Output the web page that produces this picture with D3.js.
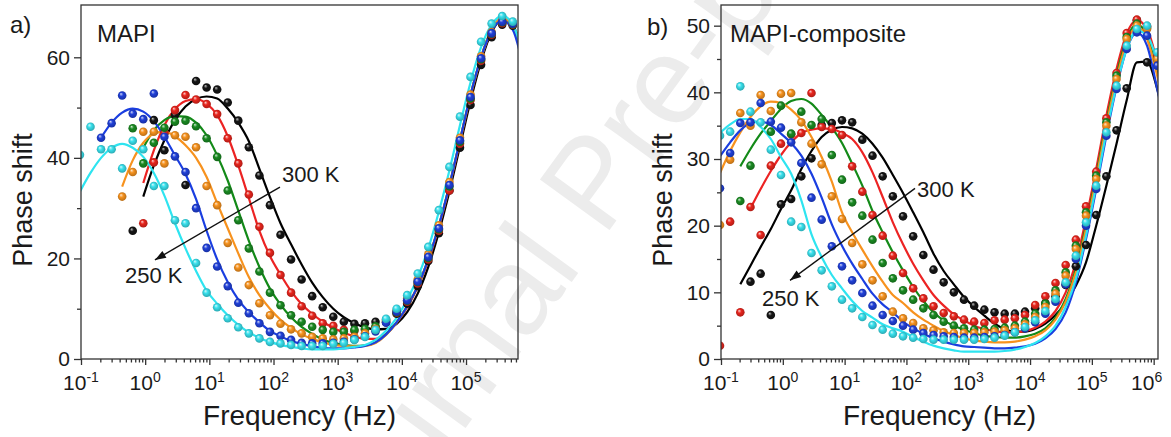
<!DOCTYPE html>
<html><head><meta charset="utf-8">
<script src="https://cdn.jsdelivr.net/npm/d3@7"></script>
<style>
html,body{margin:0;padding:0;background:#fff;}
svg{display:block;font-family:"Liberation Sans",Arial,sans-serif;}
</style></head><body>
<svg id="chart" width="1171" height="437"></svg>
<script>
const _ = null;
// measurement frequencies (Hz)
const FREQ = [0.0963, 0.1406, 0.2053, 0.2999, 0.438, 0.6397, 0.9344, 1.365, 1.993, 2.911, 4.251, 6.209, 9.068, 13.24, 19.34, 28.25, 41.26, 60.26, 88.0, 128.5, 187.7, 274.2, 400.4, 584.8, 854.1, 1247, 1822, 2661, 3886, 5675, 8289, 12106, 17681, 25823, 37715, 55081, 80446, 117490, 171593, 250611, 366012, 534564, 780723, 1140250, 1665000];

// ---- panel a) MAPI : measured phase (deg) ----
const A_BLACK  = [_, _, _, _, _, 25.5, _, 47.5, 41.5, 48.5, 34.6, 55.3, 54.0, 53.6, 51.0, 47.4, 42.1, 36.5, 30.6, 24.7, 19.8, 15.8, 12.5, 10.3, 8.4, 7.4, 7.0, 7.1, 7.4, 7.8, 9.0, 11.0, 14.5, 19.5, 25.0, 33.5, 42.0, 50.5, 58.5, 64.0, 66.5, 66.3];
const A_RED    = [_, _, _, _, _, _, 27.0, 39.1, 45.0, 49.5, 52.5, 51.6, 50.7, 48.7, 43.9, 38.9, 32.7, 26.3, 21.1, 16.7, 13.2, 10.5, 8.6, 7.1, 6.6, 5.8, 5.6, 5.8, 6.3, 7.3, 9.2, 11.4, 15.0, 19.8, 25.5, 33.5, 42.8, 51.5, 59.3, 64.5, 66.8, 66.5];
const A_GREEN  = [_, _, _, _, _, 45.9, 38.9, 43.0, 46.0, 47.2, 47.4, 46.3, 43.9, 40.2, 33.5, 27.6, 22.0, 17.4, 13.2, 10.7, 8.7, 7.4, 6.4, 5.8, 5.4, 5.4, 5.8, 6.0, 6.5, 7.4, 9.3, 11.6, 15.3, 20.1, 25.8, 34.3, 43.2, 51.8, 59.6, 64.7, 67.0, 66.6];
const A_ORANGE = [_, _, _, _, 32.3, 37.2, 45.2, 45.2, 38.9, 44.5, 44.2, 42.1, 34.4, 30.6, 23.1, 18.2, 14.7, 11.1, 8.7, 7.0, 5.9, 5.1, 4.4, 4.1, 3.9, 4.1, 4.4, 5.1, 6.0, 7.6, 9.6, 12.0, 15.8, 20.8, 26.6, 35.2, 44.0, 52.6, 60.2, 65.0, 67.3, 66.8];
const A_BLUE   = [_, _, 44.0, 46.9, 52.4, 48.8, 47.7, 52.8, 44.2, 40.3, 37.2, 30.0, 22.1, 18.4, 14.5, 11.2, 9.1, 7.1, 5.4, 4.6, 3.8, 3.2, 3.1, 3.1, 3.2, 3.4, 3.9, 4.5, 5.5, 7.2, 9.4, 11.7, 15.4, 20.3, 26.0, 34.6, 43.5, 52.1, 59.8, 64.8, 67.1, 66.7];
const A_CYAN   = [40.6, 46.2, 41.7, 41.7, 37.9, 43.4, 41.7, 34.4, 34.4, 27.6, 27.0, 19.1, 13.2, 10.3, 8.1, 6.3, 5.1, 4.1, 3.4, 3.1, 2.8, 2.6, 2.6, 2.6, 3.0, 3.2, 3.8, 4.4, 5.8, 8.0, 10.0, 12.7, 17.0, 22.3, 29.6, 38.2, 48.2, 56.1, 63.1, 66.7, 68.2, 67.1];
// ---- panel a) fitted curves ----
const A_BLACK_FIT  = [_, _, _, _, _, _, 32.3, 38.5, 43.5, 47.5, 50.2, 51.7, 52.2, 51.8, 49.8, 47.0, 43.3, 37.8, 32.2, 27.0, 22.8, 18.8, 15.2, 12.3, 10.0, 8.3, 7.1, 6.3, 5.9, 6.0, 7.0, 9.3, 13.0, 18.3, 25.2, 33.3, 42.3, 51.3, 59.2, 65.0, 67.5, 66.3, 61.0];
const A_RED_FIT    = [_, _, _, _, _, _, 35.0, 41.5, 46.5, 49.7, 51.3, 51.7, 50.8, 48.5, 44.3, 38.5, 32.0, 25.5, 20.5, 16.8, 13.5, 10.9, 9.0, 7.4, 6.2, 5.2, 4.5, 4.0, 4.0, 5.0, 7.2, 10.3, 14.3, 19.5, 26.2, 34.2, 43.2, 52.2, 59.8, 65.3, 67.7, 66.3, 61.0];
const A_GREEN_FIT  = [_, _, _, _, _, _, 42.0, 45.5, 47.5, 48.3, 48.2, 47.0, 44.5, 40.5, 35.5, 29.5, 23.5, 18.3, 14.0, 10.8, 8.3, 6.4, 5.0, 3.9, 3.2, 2.8, 2.6, 2.7, 3.3, 4.9, 7.3, 10.5, 14.5, 19.8, 26.5, 34.5, 43.5, 52.5, 60.0, 65.5, 67.8, 66.3, 61.0];
const A_ORANGE_FIT = [_, _, _, _, 34.3, 39.5, 43.0, 44.8, 45.2, 44.3, 42.5, 40.0, 36.2, 31.0, 26.0, 21.0, 16.3, 12.7, 10.0, 7.8, 6.2, 4.9, 4.0, 3.3, 2.8, 2.6, 2.5, 2.6, 3.2, 4.8, 7.3, 10.5, 14.5, 19.8, 26.5, 34.5, 43.5, 52.5, 60.0, 65.5, 67.8, 66.3, 61.0];
const A_BLUE_FIT   = [_, _, 44.0, 47.0, 49.0, 49.8, 49.2, 47.3, 44.2, 40.5, 36.8, 31.8, 25.5, 19.8, 15.3, 11.8, 9.3, 7.3, 5.6, 4.5, 3.6, 3.0, 2.5, 2.2, 2.1, 2.1, 2.3, 2.6, 3.3, 4.9, 7.3, 10.5, 14.5, 19.8, 26.5, 34.5, 43.5, 52.5, 60.0, 65.3, 67.3, 65.5, 58.0];
const A_CYAN_FIT   = [33.3, 37.0, 40.0, 42.0, 42.8, 42.0, 40.2, 37.0, 32.5, 27.0, 22.0, 17.5, 13.6, 11.0, 8.7, 6.8, 5.3, 4.2, 3.4, 2.8, 2.4, 2.1, 1.9, 1.9, 1.9, 2.1, 2.4, 2.8, 3.8, 5.6, 8.2, 11.8, 16.2, 22.0, 29.3, 37.5, 46.5, 55.0, 62.0, 66.5, 68.3, 66.5, 61.0];

// ---- panel b) MAPI-composite : measured phase (deg) ----
const B_BLACK  = [_, _, _, 11.6, 12.8, 6.6, 23.2, 24.0, 27.4, 30.1, 35.1, 35.4, 35.8, 35.5, 32.9, 30.5, 27.4, 24.4, 21.4, 18.4, 15.6, 13.4, 11.5, 10.0, 8.9, 8.0, 7.4, 7.0, 6.8, 6.8, 7.1, 7.6, 8.4, 9.4, 11.1, 13.9, 17.1, 21.6, 27.4, 34.3, 40.6, 50.8, 44.5];
const B_RED    = [2.0, 20.6, 7.0, 22.8, 18.6, 29.0, 32.3, 33.7, 33.9, 39.9, 34.8, 34.5, 33.6, 28.9, 25.1, 21.6, 18.5, 15.5, 12.9, 10.6, 9.1, 7.9, 6.9, 6.4, 5.9, 5.6, 5.4, 5.8, 5.9, 6.1, 6.6, 8.1, 9.4, 11.4, 14.1, 17.9, 22.9, 28.1, 36.1, 42.9, 48.9, 50.9, 49.9, 45.5];
const B_GREEN  = [_, _, 23.7, 29.0, _, 34.1, 38.0, 33.8, 37.1, 35.1, 36.0, 30.6, 26.9, 23.5, 21.5, 17.9, 14.4, 12.1, 10.3, 8.9, 7.6, 6.6, 5.6, 5.0, 4.6, 4.4, 4.4, 4.5, 4.7, 5.0, 5.6, 6.8, 8.3, 10.3, 13.0, 17.0, 22.0, 27.5, 35.5, 42.5, 48.3, 50.3, 49.7, 45.0];
const B_ORANGE = [20.1, 29.9, 36.9, 35.0, 39.6, 37.2, 39.8, 39.9, 35.5, 32.3, 29.2, 24.4, 21.0, 17.4, 14.2, 11.8, 9.4, 7.1, 6.1, 5.4, 4.6, 4.3, 4.0, 3.9, 3.9, 3.9, 4.0, 4.1, 4.3, 4.6, 5.2, 6.3, 7.8, 9.8, 12.5, 16.5, 21.5, 27.0, 35.0, 42.0, 48.0, 50.0, 49.5, 45.0];
const B_BLUE   = [25.6, 30.9, 35.4, 35.5, 38.4, 35.6, 34.7, 32.5, 29.4, 24.2, 20.9, 16.9, 13.9, 11.8, 9.9, 8.0, 6.6, 5.7, 5.0, 4.4, 3.9, 3.6, 3.4, 3.3, 3.2, 3.2, 3.3, 3.4, 3.6, 4.0, 4.6, 5.5, 6.8, 8.6, 11.2, 15.0, 20.0, 25.5, 33.5, 40.5, 46.5, 49.0, 48.5, 44.0];
const B_CYAN   = [33.5, 34.1, 40.9, 37.1, 35.5, 31.4, 27.6, 20.6, 19.8, 15.9, 13.3, 10.9, 8.9, 7.6, 6.3, 5.1, 4.4, 3.8, 3.4, 3.2, 3.0, 2.9, 2.9, 2.9, 2.9, 2.9, 3.0, 3.2, 3.5, 4.0, 4.8, 5.8, 7.2, 9.0, 11.5, 15.5, 20.5, 26.0, 34.0, 41.0, 47.0, 49.5, 50.0, 46.0];
// ---- panel b) fitted curves ----
const B_BLACK_FIT  = [_, _, 11.2, 14.0, 16.8, 19.5, 22.5, 25.3, 28.5, 31.2, 33.3, 34.4, 34.8, 34.6, 33.8, 32.3, 30.2, 27.6, 24.9, 22.0, 19.0, 15.8, 13.2, 11.2, 9.3, 7.8, 6.5, 5.3, 4.5, 4.1, 4.1, 4.5, 5.3, 6.6, 8.5, 11.0, 14.5, 20.0, 26.0, 32.3, 38.8, 44.5, 44.6, 40.5, 34.0];
const B_RED_FIT    = [_, _, _, 22.6, 25.5, 28.2, 30.6, 32.5, 33.9, 34.4, 34.6, 34.5, 33.9, 33.0, 31.0, 28.0, 24.3, 20.5, 17.2, 14.3, 11.8, 9.6, 8.0, 6.7, 5.8, 5.0, 4.5, 4.2, 4.0, 4.0, 4.2, 4.7, 5.6, 7.2, 10.0, 14.5, 21.0, 28.5, 36.5, 43.5, 48.8, 50.8, 49.5, 44.5, 37.0];
const B_GREEN_FIT  = [_, _, 28.9, 31.5, 33.8, 35.7, 37.5, 38.7, 39.0, 38.3, 36.6, 34.7, 32.4, 29.3, 26.0, 22.2, 19.0, 16.0, 13.3, 10.8, 8.7, 7.0, 5.8, 5.0, 4.4, 3.9, 3.5, 3.3, 3.2, 3.2, 3.4, 3.8, 4.6, 6.2, 9.0, 13.5, 20.0, 27.5, 35.5, 42.5, 48.0, 50.2, 48.5, 43.0, 36.0];
const B_ORANGE_FIT = [27.9, 31.2, 34.0, 36.3, 37.9, 38.6, 38.4, 37.4, 35.8, 33.3, 30.3, 26.6, 22.0, 19.0, 16.4, 13.9, 11.6, 9.6, 8.4, 7.0, 5.9, 5.0, 4.2, 3.6, 3.1, 2.8, 2.6, 2.5, 2.5, 2.6, 2.9, 3.4, 4.3, 5.9, 8.6, 13.0, 19.5, 27.0, 35.0, 42.0, 47.5, 49.8, 48.0, 42.5, 35.0];
const B_BLUE_FIT   = [30.4, 32.5, 34.3, 35.4, 35.6, 35.1, 33.8, 32.4, 30.5, 27.8, 24.2, 20.2, 17.0, 14.3, 12.0, 9.8, 8.2, 7.0, 5.6, 4.6, 3.8, 3.1, 2.6, 2.2, 1.9, 1.8, 1.7, 1.6, 1.6, 1.7, 1.9, 2.3, 3.1, 4.5, 7.0, 11.5, 18.0, 25.5, 33.5, 40.8, 46.5, 49.0, 47.0, 40.5, 33.0];
const B_CYAN_FIT   = [33.9, 35.2, 36.0, 36.0, 34.8, 33.0, 30.3, 27.8, 23.8, 18.7, 15.3, 12.6, 10.6, 8.7, 7.2, 6.2, 5.2, 4.6, 4.1, 3.3, 2.6, 2.0, 1.6, 1.3, 1.1, 1.1, 1.1, 1.1, 1.2, 1.4, 1.8, 2.4, 3.4, 5.0, 7.8, 12.0, 18.5, 26.0, 34.0, 41.0, 46.5, 49.3, 48.5, 44.5, 37.0];

const SERIES_NAMES = ["black", "red", "green", "orange", "blue", "cyan"];
const DOT_COLORS  = {black:"#151515", red:"#e8251d", green:"#1a8a22", orange:"#f6921e", blue:"#2040d8", cyan:"#38e0ec"};
const LINE_COLORS = {black:"#000000", red:"#ec2323", green:"#138a18", orange:"#f7921e", blue:"#1a3ee0", cyan:"#2ee4f0"};

const A_TICKS_Y = [0, 20, 40, 60];
const B_TICKS_Y = [0, 10, 20, 30, 40, 50];
const A_TICKS_X = [1e-1, 1e0, 1e1, 1e2, 1e3, 1e4, 1e5];
const B_TICKS_X = [1e-1, 1e0, 1e1, 1e2, 1e3, 1e4, 1e5, 1e6];

const svg = d3.select("#chart");
const defs = svg.append("defs");

// watermark (clipped to the picture)
defs.append("clipPath").attr("id", "page-clip").append("rect").attr("x", 0).attr("y", 0).attr("width", 1171).attr("height", 437);
svg.append("g").attr("clip-path", "url(#page-clip)").append("text")
  .attr("transform", "translate(342,598) rotate(-54)")
  .attr("font-size", 125).attr("fill", "#ececec")
  .text("Journal Pre-proof");

SERIES_NAMES.forEach(n => {
  const c = DOT_COLORS[n];
  const g = defs.append("radialGradient").attr("id", "ball-" + n)
    .attr("cx", "50%").attr("cy", "50%").attr("r", "55%").attr("fx", "35%").attr("fy", "30%");
  g.append("stop").attr("offset", "0%").attr("stop-color", d3.interpolateRgb(c, "#ffffff")(n === "black" ? 0.75 : 0.8));
  g.append("stop").attr("offset", "40%").attr("stop-color", c);
  g.append("stop").attr("offset", "100%").attr("stop-color", d3.color(c).darker(0.9));
});

function drawPanel(cfg) {
  const x = d3.scaleLog().domain([0.1, cfg.xMax]).range([cfg.left, cfg.right]);
  const y = d3.scaleLinear().domain([0, cfg.yMax]).range([cfg.bottom, cfg.top]);
  const g = svg.append("g");
  defs.append("clipPath").attr("id", cfg.id + "-clip").append("rect")
    .attr("x", cfg.left).attr("y", cfg.top).attr("width", cfg.right - cfg.left).attr("height", cfg.bottom - cfg.top);
  const plot = g.append("g").attr("clip-path", `url(#${cfg.id}-clip)`);

  const line = d3.line().x(d => x(d[0])).y(d => y(d[1])).curve(d3.curveMonotoneX);
  cfg.series.forEach(s => {
    const pts = FREQ.map((f, i) => [f, s.fit[i]]).filter(d => d[1] != null);
    plot.append("path").attr("d", line(pts)).attr("fill", "none")
      .attr("stroke", LINE_COLORS[s.name]).attr("stroke-width", 2.2);
  });
  cfg.series.forEach(s => {
    const pts = FREQ.map((f, i) => [f, s.dots[i]]).filter(d => d[1] != null);
    plot.selectAll(null).data(pts).enter().append("circle")
      .attr("cx", d => x(d[0])).attr("cy", d => y(d[1])).attr("r", 4.3)
      .attr("fill", `url(#ball-${s.name})`);
  });

  // axes
  const axisColor = "#333";
  const minorX = [];
  for (let e = -1; e <= 6; e++) for (let m = 2; m <= 9; m++) { const v = m * Math.pow(10, e); if (v <= cfg.xMax) minorX.push(v); }
  const xa = g.append("g").attr("transform", `translate(0,${cfg.bottom})`)
    .call(d3.axisBottom(x).tickValues(cfg.xTicks).tickSize(6).tickSizeOuter(0).tickFormat(""));
  const xm = g.append("g").attr("transform", `translate(0,${cfg.bottom})`)
    .call(d3.axisBottom(x).tickValues(minorX).tickSize(3.5).tickSizeOuter(0).tickFormat(""));
  const minorY = cfg.yTicks.slice(0, -1).map((v, i) => (v + cfg.yTicks[i + 1]) / 2);
  const ya = g.append("g").attr("transform", `translate(${cfg.left},0)`)
    .call(d3.axisLeft(y).tickValues(cfg.yTicks).tickSize(7).tickPadding(4).tickSizeOuter(0));
  const ym = g.append("g").attr("transform", `translate(${cfg.left},0)`)
    .call(d3.axisLeft(y).tickValues(minorY).tickSize(4).tickSizeOuter(0).tickFormat(""));
  [xa, xm, ya, ym].forEach(a => {
    a.selectAll("path,line").attr("stroke", axisColor).attr("stroke-width", 1.3);
    a.select(".domain").remove();
  });
  ya.selectAll("text").attr("font-size", 21).attr("fill", "#1a1a1a").attr("font-family", "Liberation Sans, Arial, sans-serif");

  cfg.xTicks.forEach((v, i) => {
    const last = i === cfg.xTicks.length - 1 && cfg.lastLabelShift;
    const t = g.append("text").attr("x", x(v) - (last ? cfg.lastLabelShift : 0)).attr("y", cfg.bottom + 31).attr("text-anchor", "middle")
      .attr("font-size", 21).attr("fill", "#1a1a1a");
    t.append("tspan").text("10");
    t.append("tspan").attr("dy", -8).attr("font-size", 14).text(String(Math.round(Math.log10(v))));
  });

  g.append("rect").attr("x", cfg.left).attr("y", cfg.top).attr("width", cfg.right - cfg.left).attr("height", cfg.bottom - cfg.top)
    .attr("fill", "none").attr("stroke", axisColor).attr("stroke-width", 1.3);

  // titles
  g.append("text").attr("transform", `translate(${cfg.left - 49},200) rotate(-90)`).attr("text-anchor", "middle")
    .attr("font-size", 27).attr("fill", "#1a1a1a").text("Phase shift");
  g.append("text").attr("x", (cfg.left + cfg.right) / 2).attr("y", 425).attr("text-anchor", "middle")
    .attr("font-size", 28).attr("fill", "#1a1a1a").text("Frequency (Hz)");
  g.append("text").attr("x", cfg.tagX).attr("y", cfg.tagY).attr("font-size", 24).attr("fill", "#1a1a1a").text(cfg.tag);
  g.append("text").attr("x", cfg.left + cfg.nameDx).attr("y", 42).attr("font-size", 24).attr("fill", "#1a1a1a").text(cfg.name);

  // temperature arrow
  const a = cfg.arrow;
  const x1 = x(a.from[0]), y1 = y(a.from[1]), x2 = x(a.to[0]), y2 = y(a.to[1]);
  g.append("line").attr("x1", x1).attr("y1", y1).attr("x2", x2).attr("y2", y2).attr("stroke", "#111").attr("stroke-width", 1.4);
  const ang = Math.atan2(y2 - y1, x2 - x1), L = 11, hw = 4;
  const bx = x2 - L * Math.cos(ang), by = y2 - L * Math.sin(ang);
  g.append("polygon").attr("points", [[x2, y2], [bx + hw * Math.sin(ang), by - hw * Math.cos(ang)], [bx - hw * Math.sin(ang), by + hw * Math.cos(ang)]].map(p => p.join(",")).join(" "))
    .attr("fill", "#111");
  g.append("text").attr("x", x(a.hiLabel[0])).attr("y", y(a.hiLabel[1])).attr("font-size", 22).attr("fill", "#1a1a1a").text("300 K");
  g.append("text").attr("x", x(a.loLabel[0])).attr("y", y(a.loLabel[1])).attr("font-size", 22).attr("fill", "#1a1a1a").text("250 K");
}

drawPanel({
  id: "a", left: 81, right: 518, top: 5, bottom: 359, xMax: 645654, yMax: 70.4,
  xTicks: A_TICKS_X, yTicks: A_TICKS_Y, tag: "a)", tagX: 10, tagY: 33, name: "MAPI", nameDx: 16, lastLabelShift: 0,
  arrow: {from: [126, 34.2], to: [1.42, 19.7], hiLabel: [135.5, 35.2], loLabel: [0.485, 15.1]},
  series: [
    {name: "black", dots: A_BLACK, fit: A_BLACK_FIT},
    {name: "red", dots: A_RED, fit: A_RED_FIT},
    {name: "green", dots: A_GREEN, fit: A_GREEN_FIT},
    {name: "orange", dots: A_ORANGE, fit: A_ORANGE_FIT},
    {name: "blue", dots: A_BLUE, fit: A_BLUE_FIT},
    {name: "cyan", dots: A_CYAN, fit: A_CYAN_FIT}
  ]
});
drawPanel({
  id: "b", left: 721, right: 1158, top: 5, bottom: 359, xMax: 1174898, yMax: 53.1,
  xTicks: B_TICKS_X, yTicks: B_TICKS_Y, tag: "b)", tagX: 647, tagY: 35, name: "MAPI-composite", nameDx: 9, lastLabelShift: 7,
  arrow: {from: [137.7, 25.6], to: [1.31, 11.8], hiLabel: [148.6, 24.3], loLabel: [0.46, 8.0]},
  series: [
    {name: "black", dots: B_BLACK, fit: B_BLACK_FIT},
    {name: "red", dots: B_RED, fit: B_RED_FIT},
    {name: "green", dots: B_GREEN, fit: B_GREEN_FIT},
    {name: "orange", dots: B_ORANGE, fit: B_ORANGE_FIT},
    {name: "blue", dots: B_BLUE, fit: B_BLUE_FIT},
    {name: "cyan", dots: B_CYAN, fit: B_CYAN_FIT}
  ]
});
</script>
</body></html>
